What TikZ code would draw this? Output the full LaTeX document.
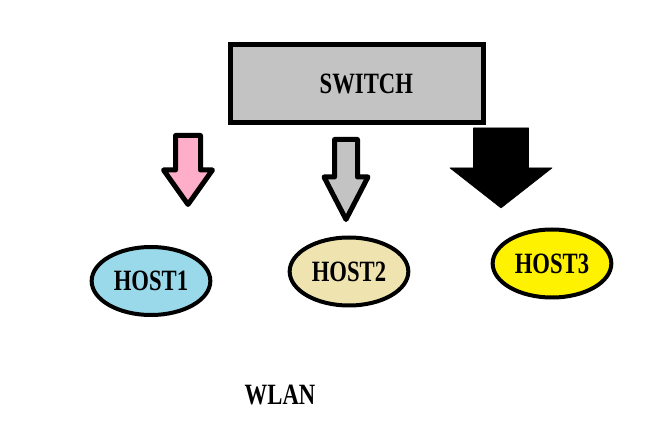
\documentclass[tikz,border=0pt]{standalone}
\usepackage{fontspec}
\setmainfont{Liberation Serif}
\usetikzlibrary{shapes.geometric}

\definecolor{switchgray}{RGB}{195,195,195}
\definecolor{arrowpink}{RGB}{255,174,201}
\definecolor{arrowgray}{RGB}{195,195,195}
\definecolor{hostblue}{RGB}{153,217,234}
\definecolor{hostbeige}{RGB}{239,228,176}
\definecolor{hostyellow}{RGB}{255,242,0}

\newcommand{\tallcaps}[1]{\scalebox{1}[1.3]{#1}}

\begin{document}
\begin{tikzpicture}[
  x=0.75pt, y=-0.75pt,
  lbl/.style={font=\fontsize{17}{17}\selectfont\bfseries},
  switchbox/.style={draw=black, line width=3.75pt, fill=switchgray,
    minimum width=189.75pt, minimum height=58.5pt, inner sep=0pt, lbl},
  host/.style={ellipse, draw=black, line width=3pt,
    minimum width=89pt, minimum height=51pt, inner sep=0pt, lbl},
]
  \useasboundingbox (0,0) rectangle (662,428);

  % switch on top
  \node[switchbox] (sw) at (357,83.5) {\hspace*{14pt}\tallcaps{SWITCH}};

  % block arrows: centre x / top / shaft half / head base / head half / tip / colour / line
  \foreach \cx/\ty/\sh/\hb/\hh/\tp/\col/\lw in {
      188/135.5/12.5/170/24.5/204.5/arrowpink/3.75pt,
      346/139.5/11.5/177/22/219.5/arrowgray/3.75pt,
      501/128/27.5/168/51/208/black/0.4pt} {
    \draw[line width=\lw, fill=\col, line join=round]
      (\cx-\sh,\ty) -- (\cx+\sh,\ty) -- (\cx+\sh,\hb) -- (\cx+\hh,\hb)
      -- (\cx,\tp) -- (\cx-\hh,\hb) -- (\cx-\sh,\hb) -- cycle;
  }

  % hosts
  \node[host, fill=hostblue]   (h1) at (151,281)   {\tallcaps{HOST1}};
  \node[host, fill=hostbeige]  (h2) at (349,271.5) {\tallcaps{HOST2}};
  \node[host, fill=hostyellow] (h3) at (552,263.5) {\tallcaps{HOST3}};

  % network label
  \node[lbl] (wlan) at (280,395) {\tallcaps{WLAN}};
\end{tikzpicture}
\end{document}
